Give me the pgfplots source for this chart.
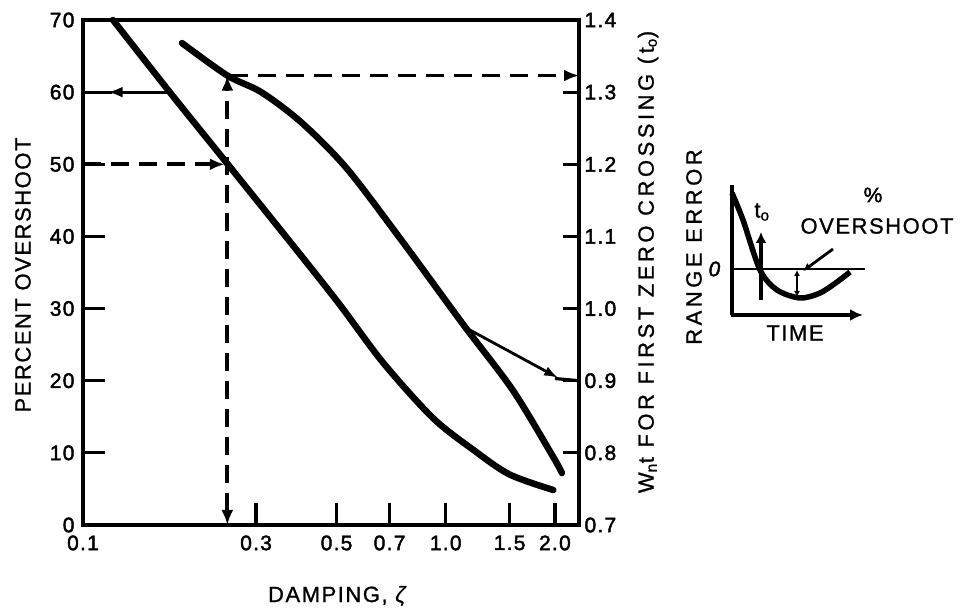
\documentclass[border=0pt]{standalone}
\usepackage{fontspec}
\setmainfont{Liberation Sans}[LetterSpace=7, FakeBold=1]
\newfontfamily\widefont{Liberation Sans}[LetterSpace=16, FakeBold=1]
\newfontfamily\tickfont{Liberation Sans}[LetterSpace=6, FakeBold=2]
\usepackage{pgfplots}
\pgfplotsset{compat=1.18}
\usetikzlibrary{arrows.meta}
\newcommand{\ticksize}{\fontsize{21}{23}\selectfont\tickfont}
\newcommand{\labsize}{\fontsize{22}{25}\selectfont}
\begin{document}
\begin{tikzpicture}
\useasboundingbox (0,0) rectangle (965pt,612pt);
\begin{axis}[
 at={(83pt,87pt)}, anchor=south west, scale only axis, width=496pt, height=505pt,
 xmode=log, xmin=0.1, xmax=2.33, ymin=0, ymax=70,
 axis line style={line width=3.8pt},
 xtick={0.1,0.3,0.5,0.7,1,1.5,2}, xticklabels={0.1,0.3,0.5,0.7,1.0,1.5,2.0},
 minor xtick={},
 ytick={0,10,20,30,40,50,60,70},
 xtick pos=left, ytick pos=left,
 tick align=inside, major tick length=22pt,
 tick style={black, line width=3.2pt},
 tick label style={font=\ticksize},
 /pgf/number format/assume math mode=true,
 xticklabel style={yshift=-7pt},
 yticklabel style={xshift=-5pt},
 clip=false,
]
\addplot[line width=6.5pt, smooth, line cap=round] coordinates {(0.121,70)(0.176,59.6)(0.248,50.3)(0.397,37.5)(0.511,30.5)(0.672,22.5)(0.923,14.8)(1.20,10.3)(1.50,7.0)(1.98,4.85)};
% solid arrow to 60
\draw[line width=2.8pt, -{Latex[length=15pt,width=11pt]}] (axis cs:0.176,60) -- (axis cs:0.117,60);
\draw[line width=2.8pt] (axis cs:0.12,60) -- (axis cs:0.1,60);
% dashed arrow at 50
\draw[line width=3.8pt, dash pattern=on 18pt off 10pt, -{Latex[length=15pt,width=12pt]}] (axis cs:0.1,50) -- (axis cs:0.246,50);
% vertical dashed double arrow at 0.25
\draw[line width=3.8pt, dash pattern=on 18pt off 10pt, {Latex[length=15pt,width=12pt]}-{Latex[length=15pt,width=12pt]}] (axis cs:0.25,0) -- (axis cs:0.25,62.3);
% horizontal dashed to right axis
\draw[line width=3.8pt, dash pattern=on 18pt off 10pt, -{Latex[length=15pt,width=12pt]}] (axis cs:0.255,62.3) -- (axis cs:2.33,62.3);
% thin arrow to 0.9
\draw[line width=2.8pt, -{Latex[length=14pt,width=10pt]}] (axis cs:1.12,27.5) -- (axis cs:2.04,20.4);
\draw[line width=3.2pt] (axis cs:2.0,20.3) -- (axis cs:2.33,20);
\end{axis}
\begin{axis}[
 at={(83pt,87pt)}, anchor=south west, scale only axis, width=496pt, height=505pt,
 xmode=log, xmin=0.1, xmax=2.33, ymin=0.7, ymax=1.4,
 axis x line=none, axis y line*=right,
 axis line style={line width=3.8pt},
 ytick={0.7,0.8,0.9,1.0,1.1,1.2,1.3,1.4}, yticklabels={0.7,0.8,0.9,1.0,1.1,1.2,1.3,1.4},
 tick align=inside, major tick length=16pt,
 tick style={black, line width=3.2pt},
 tick label style={font=\ticksize},
 /pgf/number format/assume math mode=true,
 yticklabel style={xshift=2pt},
 clip=false,
]
\addplot[line width=6.5pt, smooth, line cap=round] coordinates {(0.1875,1.368)(0.25,1.323)(0.31,1.300)(0.40,1.258)(0.534,1.194)(0.762,1.092)(1.117,0.978)(1.53,0.887)(1.98,0.794)(2.09,0.772)};
\end{axis}
\begin{axis}[
 at={(731pt,297pt)}, anchor=south west, scale only axis, width=132pt, height=130pt,
 xmin=0, xmax=132, ymin=0, ymax=130, hide axis, clip=false,
]
\addplot[line width=5.5pt, smooth] coordinates {(1,122)(12,95)(29,45)(46,25)(69,17)(89,22)(106,33)(119,43)};
\draw[line width=3.2pt] (axis cs:1,130) -- (axis cs:1,0);
\draw[line width=3.2pt, -{Latex[length=13pt,width=12pt]}] (axis cs:0,0) -- (axis cs:132,0);
\draw[line width=2.8pt] (axis cs:0,46) -- (axis cs:134,46);
\draw[line width=3.2pt, -{Latex[length=11pt,width=11pt]}] (axis cs:30,15) -- (axis cs:30,83);
\draw[line width=1.8pt, {Latex[length=6pt,width=6pt]}-{Latex[length=6pt,width=6pt]}] (axis cs:66,45) -- (axis cs:66,18);
\draw[line width=2.8pt, -{Latex[length=8pt,width=8pt]}] (axis cs:102,66) -- (axis cs:72,44);
\end{axis}
\node[font=\labsize, rotate=90] at (23pt,337pt) {PERCENT OVERSHOOT};
\node[font=\labsize] at (338pt,16pt) {DAMPING, \textit{ζ}};
\node[font=\labsize\widefont, rotate=90] at (648pt,350pt) {W\textsubscript{n}t FOR FIRST ZERO CROSSING (t\textsubscript{o})};
\node[font=\labsize\widefont, rotate=90] at (694pt,365pt) {RANGE ERROR};
\node[font=\ticksize] at (715pt,343pt) {\textit{0}};
\node[font=\labsize] at (762pt,400pt) {t\textsubscript{o}};
\node[font=\ticksize] at (873pt,417pt) {\%};
\node[font=\labsize] at (877pt,386pt) {OVERSHOOT};
\node[font=\labsize] at (795pt,279pt) {TIME};
\end{tikzpicture}
\end{document}
